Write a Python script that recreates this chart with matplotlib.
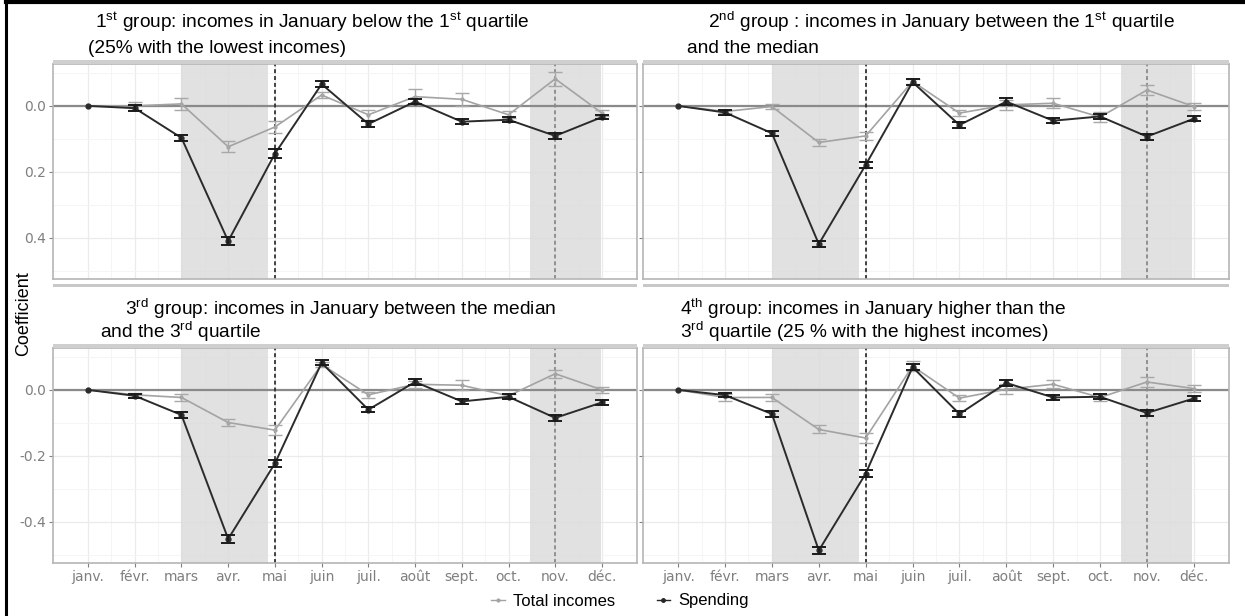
import matplotlib
matplotlib.use("Agg")
import matplotlib.pyplot as plt
import matplotlib.font_manager as fm
from matplotlib.patches import Rectangle
from matplotlib.lines import Line2D
import numpy as np

W, H = 1245, 616

months = ["janv.", "févr.", "mars", "avr.", "mai", "juin", "juil.", "août",
          "sept.", "oct.", "nov.", "déc."]

# group 1: below the 1st quartile
g1_spend = [0, -0.007, -0.097, -0.410, -0.145, 0.066, -0.055, 0.013, -0.048, -0.042, -0.091, -0.034]
g1_spend_err = [0, 0.010, 0.010, 0.013, 0.014, 0.010, 0.009, 0.008, 0.008, 0.008, 0.009, 0.007]
g1_inc = [0, 0.000, 0.006, -0.124, -0.064, 0.033, -0.027, 0.028, 0.020, -0.027, 0.082, -0.022]
g1_inc_err = [0, 0.012, 0.017, 0.016, 0.018, 0.010, 0.015, 0.022, 0.019, 0.010, 0.022, 0.008]

# group 2: between 1st quartile and median
g2_spend = [0, -0.020, -0.083, -0.419, -0.179, 0.072, -0.058, 0.013, -0.045, -0.032, -0.093, -0.039]
g2_spend_err = [0, 0.007, 0.008, 0.010, 0.010, 0.008, 0.008, 0.010, 0.008, 0.008, 0.009, 0.008]
g2_inc = [0, -0.017, -0.002, -0.111, -0.091, 0.074, -0.022, 0.003, 0.008, -0.034, 0.048, -0.002]
g2_inc_err = [0, 0.006, 0.008, 0.010, 0.013, 0.008, 0.010, 0.015, 0.015, 0.015, 0.015, 0.010]

# group 3: between median and 3rd quartile
g3_spend = [0, -0.018, -0.076, -0.452, -0.223, 0.082, -0.060, 0.024, -0.035, -0.021, -0.085, -0.038]
g3_spend_err = [0, 0.007, 0.008, 0.012, 0.010, 0.008, 0.008, 0.008, 0.007, 0.007, 0.008, 0.008]
g3_inc = [0, -0.015, -0.023, -0.099, -0.122, 0.077, -0.015, 0.017, 0.014, -0.018, 0.049, 0.000]
g3_inc_err = [0, 0.007, 0.012, 0.012, 0.014, 0.008, 0.010, 0.010, 0.015, 0.007, 0.012, 0.010]

# group 4: above the 3rd quartile
g4_spend = [0, -0.016, -0.073, -0.487, -0.254, 0.069, -0.073, 0.021, -0.023, -0.021, -0.070, -0.026]
g4_spend_err = [0, 0.007, 0.008, 0.010, 0.010, 0.010, 0.008, 0.008, 0.007, 0.007, 0.008, 0.008]
g4_inc = [0, -0.023, -0.023, -0.120, -0.146, 0.072, -0.025, 0.002, 0.017, -0.023, 0.024, 0.004]
g4_inc_err = [0, 0.010, 0.012, 0.012, 0.015, 0.015, 0.010, 0.015, 0.012, 0.010, 0.015, 0.010]

titles = [
    ("1$^{st}$ group: incomes in January below the 1$^{st}$ quartile",
     "(25% with the lowest incomes)"),
    ("2$^{nd}$ group : incomes in January between the 1$^{st}$ quartile",
     "and the median"),
    ("3$^{rd}$ group: incomes in January between the median",
     "and the 3$^{rd}$ quartile"),
    ("4$^{th}$ group: incomes in January higher than the",
     "3$^{rd}$ quartile (25 % with the highest incomes)"),
]
title_pos = [((95, 28), (88, 53)), ((708, 28), (687, 53)),
             ((125, 315), (100, 338)), ((680, 315), (680, 338))]

lockdowns = [(3.0, 4.86), (10.45, 11.97)]

# font: narrow Arial look if available
try:
    fm.findfont("Liberation Sans Narrow", fallback_to_default=False)
    TXT_FONT, TXT_SIZE, LEG_SIZE, YLAB_SIZE = "Liberation Sans Narrow", 16.5, 14.5, 15.5
except ValueError:
    TXT_FONT, TXT_SIZE, LEG_SIZE, YLAB_SIZE = "Liberation Sans", 13.8, 12, 13

plt.rcParams["mathtext.fontset"] = "custom"
plt.rcParams["mathtext.rm"] = TXT_FONT
plt.rcParams["mathtext.it"] = TXT_FONT
plt.rcParams["mathtext.default"] = "regular"


def fx(px):
    return px / W


def fy(py):
    return 1 - py / H


fig = plt.figure(figsize=(W / 100, H / 100), dpi=100)

cols = [(53, 637), (643, 1229)]
rows = [(64, 279), (348, 563)]
data = [(g1_spend, g1_spend_err, g1_inc, g1_inc_err),
        (g2_spend, g2_spend_err, g2_inc, g2_inc_err),
        (g3_spend, g3_spend_err, g3_inc, g3_inc_err),
        (g4_spend, g4_spend_err, g4_inc, g4_inc_err)]

x = np.arange(1, 13)
GRID = "#ebebeb"
TICKC = "#7f7f7f"

for i, (sp, sp_err, inc, inc_err) in enumerate(data):
    r, c = divmod(i, 2)
    x0, x1 = cols[c]
    y0, y1 = rows[r]
    ax = fig.add_axes([fx(x0), fy(y1), (x1 - x0) / W, (y1 - y0) / H])
    ax.set_xlim(0.25, 12.75)
    ax.set_ylim(-0.525, 0.127)
    ax.set_axisbelow(True)

    ax.set_xticks(x)
    ax.set_xticks(np.arange(1.5, 12, 1), minor=True)
    ax.set_yticks([-0.4, -0.2, 0.0])
    ax.set_yticks([-0.5, -0.3, -0.1, 0.1], minor=True)
    ax.grid(which="major", color=GRID, lw=0.9)
    ax.grid(which="minor", color="#f4f4f4", lw=0.6)
    ax.tick_params(which="major", length=3, color=TICKC, labelcolor=TICKC,
                   labelsize=10, pad=2)
    ax.tick_params(which="minor", length=0)

    if c == 0:
        if r == 0:
            ax.set_yticklabels(["0.4", "0.2", "0.0"])
        else:
            ax.set_yticklabels(["-0.4", "-0.2", "0.0"])
    else:
        ax.set_yticklabels([])
    if r == 1:
        ax.set_xticklabels(months)
    else:
        ax.set_xticklabels([])
        ax.tick_params(axis="x", length=0)

    for s in ax.spines.values():
        s.set_color("#b5b5b5")
        s.set_linewidth(1.2)

    for a, b in lockdowns:
        ax.axvspan(a, b, facecolor="#dcdcdc", alpha=0.85, lw=0, zorder=1)
    ax.axhline(0, color="#8a8a8a", lw=1.6, zorder=2)
    ax.axvline(5, color="#333333", ls=(0, (2.2, 1.6)), lw=1.3, zorder=2)
    ax.axvline(11, color="#8a8a8a", ls=(0, (2.2, 1.6)), lw=1.3, zorder=2)

    ax.plot(x, inc, color="#a3a3a3", lw=1.2, marker=".", ms=4, zorder=3)
    ax.errorbar(x[1:], inc[1:], yerr=inc_err[1:], fmt="none", ecolor="#a8a8a8",
                elinewidth=1, capsize=5, capthick=1, zorder=3)
    ax.plot(x, sp, color="#2b2b2b", lw=1.4, marker="o", ms=3.5, zorder=4)
    ax.errorbar(x[1:], sp[1:], yerr=sp_err[1:], fmt="none", ecolor="#1a1a1a",
                elinewidth=1.2, capsize=5, capthick=1.4, zorder=4)

    # facet strip remnant above the panel
    fig.patches.append(Rectangle((fx(x0), fy(y0)), (x1 - x0) / W, 4 / H,
                                 transform=fig.transFigure, facecolor="#cfcfcf",
                                 edgecolor="none"))
    if r == 0:
        fig.patches.append(Rectangle((fx(x0), fy(287)), (x1 - x0) / W, 3 / H,
                                     transform=fig.transFigure, facecolor="#c8c8c8",
                                     edgecolor="none"))

    (p1, p2) = title_pos[i]
    fig.text(fx(p1[0]), fy(p1[1]), titles[i][0], va="baseline", ha="left",
             family=TXT_FONT, fontsize=TXT_SIZE)
    fig.text(fx(p2[0]), fy(p2[1]), titles[i][1], va="baseline", ha="left",
             family=TXT_FONT, fontsize=TXT_SIZE)

fig.text(fx(24), fy(314), "Coefficient", rotation=90, ha="center", va="center",
         family=TXT_FONT, fontsize=YLAB_SIZE)

handles = [Line2D([], [], color="#a3a3a3", marker=".", lw=1, ms=4),
           Line2D([], [], color="#262626", marker=".", lw=1, ms=5)]
fig.legend(handles, ["Total incomes", "Spending"], loc="center",
           bbox_to_anchor=(fx(620), fy(601)), ncol=2, frameon=False,
           handlelength=0.8, handletextpad=0.5, columnspacing=2.5,
           prop={"family": TXT_FONT, "size": LEG_SIZE})

# outer frame (left and top)
fig.add_artist(Line2D([fx(6), fx(6)], [0, 1], color="black", lw=2.2,
                      transform=fig.transFigure))
fig.add_artist(Line2D([fx(6), 1], [fy(1.5), fy(1.5)], color="black", lw=3,
                      transform=fig.transFigure))

fig.savefig("out.png", dpi=100)
